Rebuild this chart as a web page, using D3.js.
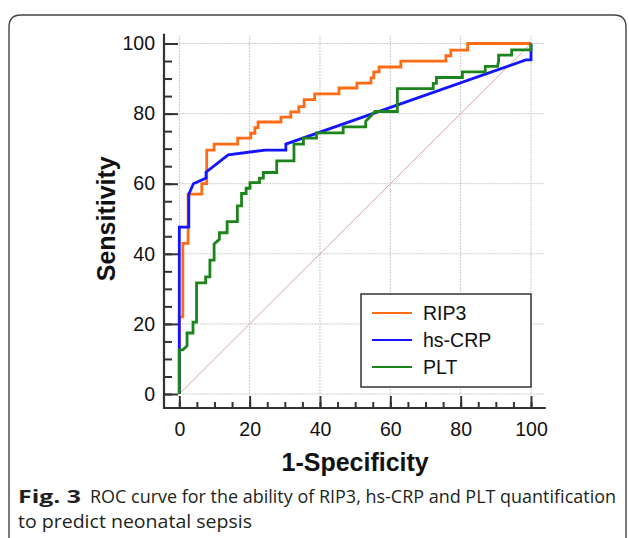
<!DOCTYPE html>
<html lang="en">
<head>
    <meta charset="UTF-8">
    <title>ROC curves</title>
    <script src="https://cdn.jsdelivr.net/npm/d3@7"></script>
    <style>
        body { margin: 0; background: #fff; }
        svg text { font-family: "Liberation Sans", Arial, sans-serif; fill: #111; }
        svg text.caption { font-family: "Open Sans", "Noto Sans", sans-serif; fill: #231f20; font-size: 18px; }
        g.axis line { stroke: #333; stroke-width: 2; }
        g.axis text { font-size: 19.5px; }
    </style>
</head>
<body>
    <script>
        //values (1-specificity, sensitivity)
        var rip3Points = [[0,0],[0,22],[1,22],[1,43],[2.5,43],[2.5,57],[6.4,57],[6.4,60],[7.8,60],[7.8,69.6],
            [9.9,69.6],[9.9,71.3],[16.6,71.3],[16.6,73],[20.3,73],[20.3,74.4],[21.5,74.4],[21.5,76],
            [22.4,76],[22.4,77.6],[28.9,77.6],[28.9,79],[31.7,79],[31.7,80.5],[34,80.5],[34,82],
            [35.5,82],[35.5,84],[38.5,84],[38.5,85.6],[45.4,85.6],[45.4,87.3],[50.5,87.3],[50.5,88.7],
            [54.5,88.7],[54.5,90.2],[55.3,90.2],[55.3,91.9],[56.8,91.9],[56.8,93.3],[63,93.3],[63,95],
            [75.8,95],[75.8,96.5],[77.2,96.5],[77.2,98.1],[82,98.1],[82,100],[100,100]];

        var crpPoints = [[0,0],[0,47.6],[2.7,47.6],[2.7,57],[4,60],[7.6,61.6],[7.6,63.3],[13.9,68.2],
            [24.4,69.6],[30.3,69.6],[30.3,71.3],[98.5,95.3],[100,95.3],[100,100]];

        var pltPoints = [[0,0],[0,12.6],[1,12.6],[2.2,13.7],[2.2,17.4],[3.9,17.4],[3.9,20.5],[4.9,20.5],
            [4.9,31.7],[7.5,31.7],[7.5,33.4],[8.7,33.4],[8.7,38.2],[9.9,38.2],[9.9,42.8],[11.4,44.1],
            [11.4,46],[13.6,46],[13.6,49.2],[16.5,49.2],[16.5,53.7],[17.7,53.7],[17.7,57.2],[19,57.2],
            [19,58.7],[20.1,58.7],[20.1,60.3],[22.8,60.3],[22.8,61.6],[23.9,61.6],[23.9,63.2],[27.7,63.2],
            [27.7,66.5],[32.6,66.5],[32.6,71.3],[35.3,71.3],[35.3,73],[39,73],[39,74.5],[46.6,74.5],
            [46.6,76.2],[53,76.2],[53,77.8],[54.7,79.6],[55.6,80.6],[62,80.6],[62,87.1],[72.2,87.1],
            [72.2,88.6],[73.1,88.6],[73.1,90.3],[80.5,90.3],[80.5,91.9],[87,91.9],[87,93.5],[90.5,93.5],
            [90.8,95.1],[90.8,96.7],[94.5,96.7],[94.5,98.2],[100,98.2],[100,100]];

        var seriesNames = ['RIP3', 'hs-CRP', 'PLT'];
        var seriesColors = ['#ff6a13', '#1414ff', '#1b841b'];
        var majorTicks = [0, 20, 40, 60, 80, 100];
        var minorTicks = d3.range(0, 101, 5);

        var w = 629;
        var h = 538;

        //scales
        var xScale = d3.scaleLinear().domain([0, 100]).range([179.3, 531]);
        var yScale = d3.scaleLinear().domain([0, 100]).range([394, 43.5]);
        var xAxisY = 408;
        var yAxisX = 164;

        var svg = d3.select('body')
                    .append('svg')
                    .attr('width', w)
                    .attr('height', h);

        //frame round the figure
        svg.append('path')
            .attr('d', 'M9,540 V27 Q9,15 21,15 H614 Q626,15 626,27 V540')
            .attr('fill', 'none')
            .attr('stroke', '#444')
            .attr('stroke-width', 1.4);

        //grid
        var grid = svg.append('g')
            .attr('stroke', '#c8c8c8')
            .attr('stroke-width', 1)
            .attr('stroke-dasharray', '2,1');

        grid.selectAll('line.h')
            .data(majorTicks)
            .enter()
            .append('line')
            .attr('x1', xScale(0))
            .attr('x2', xScale(104))
            .attr('y1', function(d) { return yScale(d); })
            .attr('y2', function(d) { return yScale(d); });

        grid.selectAll('line.v')
            .data(majorTicks)
            .enter()
            .append('line')
            .attr('y1', yScale(0))
            .attr('y2', yScale(102.2))
            .attr('x1', function(d) { return xScale(d); })
            .attr('x2', function(d) { return xScale(d); });

        //reference diagonal
        svg.append('line')
            .attr('x1', xScale(0)).attr('y1', yScale(0))
            .attr('x2', xScale(100)).attr('y2', yScale(100))
            .attr('stroke', '#d9a49a')
            .attr('stroke-width', 1);

        //axes, ticks point inwards
        svg.append('g')
            .attr('class', 'axis')
            .attr('transform', 'translate(' + yAxisX + ',0)')
            .call(d3.axisLeft(yScale).tickValues(minorTicks).tickSize(-8).tickFormat(''))
            .call(function(g) { g.select('.domain').remove(); });

        svg.append('g')
            .attr('class', 'axis')
            .attr('transform', 'translate(' + yAxisX + ',0)')
            .call(d3.axisLeft(yScale).tickValues(majorTicks).tickSizeInner(-14).tickSizeOuter(0).tickPadding(9))
            .call(function(g) { g.select('.domain').remove(); });

        svg.append('g')
            .attr('class', 'axis')
            .attr('transform', 'translate(0,' + xAxisY + ')')
            .call(d3.axisBottom(xScale).tickValues(minorTicks).tickSize(-6).tickFormat(''))
            .call(function(g) { g.select('.domain').remove(); });

        svg.append('g')
            .attr('class', 'axis')
            .attr('transform', 'translate(0,' + xAxisY + ')')
            .call(d3.axisBottom(xScale).tickValues(majorTicks).tickSizeInner(-12).tickSizeOuter(0).tickPadding(14))
            .call(function(g) { g.select('.domain').remove(); });

        svg.append('path')
            .attr('d', 'M' + yAxisX + ',' + yScale(102.8) + ' V' + xAxisY + ' H' + xScale(104.2))
            .attr('fill', 'none')
            .attr('stroke', '#333')
            .attr('stroke-width', 2.2);

        //curves
        var line = d3.line()
            .x(function(d) { return xScale(d[0]); })
            .y(function(d) { return yScale(d[1]); });

        svg.selectAll('path.roc')
            .data([rip3Points, crpPoints, pltPoints])
            .enter()
            .append('path')
            .attr('class', 'roc')
            .attr('d', line)
            .attr('fill', 'none')
            .attr('stroke', function(d, i) { return seriesColors[i]; })
            .attr('stroke-width', 2.8);

        //legend
        var legend = svg.append('g').attr('transform', 'translate(361,294)');
        legend.append('rect')
            .attr('width', 170)
            .attr('height', 93)
            .attr('fill', '#fff')
            .attr('stroke', '#333')
            .attr('stroke-width', 1.5);

        var rows = legend.selectAll('g.row')
            .data(seriesNames)
            .enter()
            .append('g')
            .attr('transform', function(d, i) { return 'translate(0,' + (19 + i * 27) + ')'; });

        rows.append('line')
            .attr('x1', 11).attr('x2', 51)
            .attr('stroke', function(d, i) { return seriesColors[i]; })
            .attr('stroke-width', 1.8);

        rows.append('text')
            .attr('x', 62)
            .attr('dy', '0.36em')
            .attr('font-size', '19.5px')
            .text(function(d) { return d; });

        //axis titles
        svg.append('text')
            .attr('x', xScale(50))
            .attr('y', 471)
            .attr('text-anchor', 'middle')
            .attr('font-size', '25px')
            .attr('font-weight', 'bold')
            .text('1-Specificity');

        svg.append('text')
            .attr('transform', 'translate(115,' + yScale(50) + ') rotate(-90)')
            .attr('text-anchor', 'middle')
            .attr('font-size', '25px')
            .attr('font-weight', 'bold')
            .text('Sensitivity');

        //caption, squeezed to the narrow face of the original
        svg.append('text')
            .attr('class', 'caption')
            .attr('x', 18).attr('y', 503)
            .attr('font-weight', 'bold')
            .attr('textLength', 63)
            .attr('lengthAdjust', 'spacingAndGlyphs')
            .text('Fig. 3');

        svg.append('text')
            .attr('class', 'caption')
            .attr('x', 90).attr('y', 503)
            .attr('textLength', 526)
            .attr('lengthAdjust', 'spacingAndGlyphs')
            .text('ROC curve for the ability of RIP3, hs-CRP and PLT quantification');

        svg.append('text')
            .attr('class', 'caption')
            .attr('x', 18).attr('y', 528)
            .attr('textLength', 234)
            .attr('lengthAdjust', 'spacingAndGlyphs')
            .text('to predict neonatal sepsis');
    </script>
</body>
</html>
